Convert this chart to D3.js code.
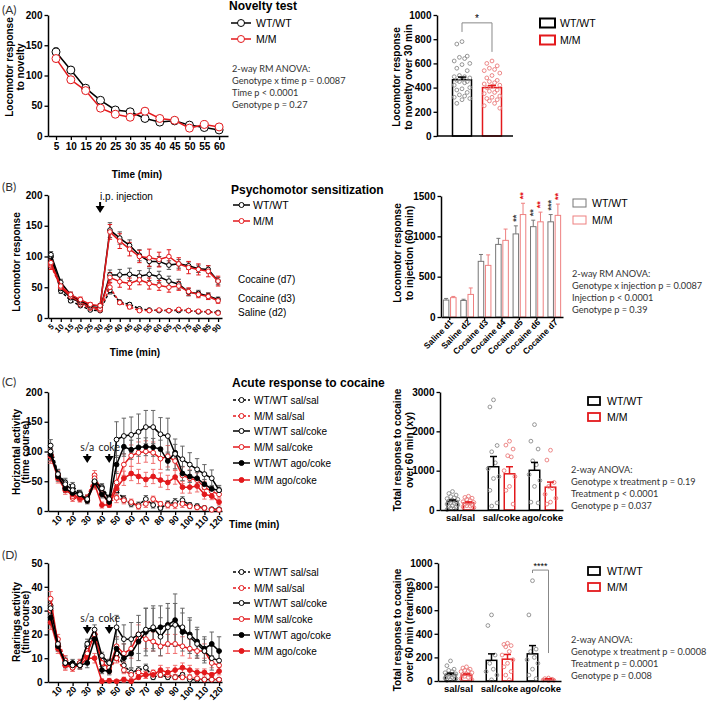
<!DOCTYPE html>
<html><head><meta charset="utf-8">
<script src="https://cdn.jsdelivr.net/npm/d3@7"></script>
<style>body{margin:0;background:#fff;} svg{display:block;}</style>
</head><body><svg id="c" width="709" height="704"></svg>
<script>
// ================= DATA =================
// (A) Novelty test
const noveltyTime = [5,10,15,20,25,30,35,40,45,50,55,60];
const noveltyWT = [139,109,79,59,43,40,29,23,25,18,14,10];
const noveltyWTsem = [7,6,4,3,3,3,2,2,2,2,2,2];
const noveltyMM = [128,93,75,46,36,31,41,29,26,13,19,15];
const noveltyMMsem = [5,5,4,3,3,3,4,3,2,2,2,2];
const genotypes = ["WT/WT","M/M"];
const noveltyTotalMean = [465,400];
const noveltyTotalSem = [22,17];
const noveltyDotsWT = [780,760,660,650,640,620,600,590,560,540,500,490,490,480,470,460,450,450,440,420,400,390,380,360,340,330,320,310,300,270];
const noveltyDotsMM = [620,600,580,560,550,540,520,500,480,460,450,440,430,420,410,400,380,370,360,350,330,320,310,300,290,270,250,230];
const noveltyAnova = ["2-way RM ANOVA:","Genotype x time p = 0.0087","Time p < 0.0001","Genotype p = 0.27"];

// (B) Psychomotor sensitization
const sensTime = [5,10,15,20,25,30,35,40,45,50,55,60,65,70,75,80,85,90];
const sensD7WT = [103,58,38,28,20,20,143,130,118,102,92,92,86,88,85,80,79,60];
const sensD7WTsem = [5,5,4,3,3,3,12,10,9,9,8,8,7,7,6,6,6,6];
const sensD7MM = [90,52,38,30,22,20,140,125,112,100,98,95,100,88,82,79,76,60];
const sensD7MMsem = [7,5,4,4,3,3,12,12,11,10,14,12,11,10,10,9,9,8];
const sensD3WT = [100,48,33,25,18,16,70,70,71,68,71,67,60,55,42,40,36,30];
const sensD3WTsem = [5,4,3,3,2,2,8,9,10,9,10,9,8,8,6,5,5,4];
const sensD3MM = [88,50,35,26,18,15,66,59,56,62,56,53,50,52,43,38,35,28];
const sensD3MMsem = [6,4,4,3,3,2,8,9,9,8,9,8,8,7,6,5,5,4];
const sensD2WT = [100,44,28,20,13,12,45,26,22,15,13,12,12,12,12,10,10,9];
const sensD2WTsem = [5,4,3,2,2,2,6,3,3,2,2,2,2,2,2,2,2,2];
const sensD2MM = [85,50,35,22,16,13,50,25,18,12,12,13,12,14,12,11,10,8];
const sensD2MMsem = [6,4,3,2,2,2,7,3,3,2,2,2,2,2,2,2,2,2];
const sensCurveLabels = ["Cocaine (d7)","Cocaine (d3)","Saline (d2)"];
const sensDays = ["Saline d1","Saline d2","Cocaine d3","Cocaine d4","Cocaine d5","Cocaine d6","Cocaine d7"];
const sensTotWT = [210,205,690,900,1030,1120,1180];
const sensTotWTsem = [20,15,85,75,100,80,90];
const sensTotMM = [240,280,640,950,1270,1180,1260];
const sensTotMMsem = [15,80,130,140,140,120,140];
const sensStarsWT = ["","","","","**","**","***"];
const sensStarsMM = ["","","","","**","**","**"];
const sensAnova = ["2-way RM ANOVA:","Genotype x injection p = 0.0087","Injection p < 0.0001","Genotype p = 0.39"];

// (C) Acute response - horizontal activity
const acuteTime = [5,10,15,20,25,30,35,40,45,50,55,60,65,70,75,80,85,90,95,100,105,110,115,120];
const acuteLegend = ["WT/WT sal/sal","M/M sal/sal","WT/WT sal/coke","M/M sal/coke","WT/WT ago/coke","M/M ago/coke"];
const horizWTsalsal = [110,62,48,42,30,22,50,40,22,35,20,12,10,20,10,5,12,15,18,10,8,5,3,3];
const horizMMsalsal = [95,60,40,22,20,22,60,30,15,22,18,15,8,12,20,12,10,10,12,8,6,5,2,2];
const horizWTsalcoke = [100,62,45,35,28,20,50,38,20,120,126,128,133,141,141,129,126,96,87,78,70,62,55,35];
const horizMMsalcoke = [92,60,38,25,22,18,55,30,12,48,78,93,98,100,98,88,92,84,60,55,52,40,33,28];
const horizWTagocoke = [95,58,38,30,28,17,48,28,15,78,108,103,107,108,107,104,84,98,63,58,55,45,37,35];
const horizMMagocoke = [93,55,35,28,22,20,45,10,10,38,55,63,58,53,58,52,48,57,40,40,42,28,25,15];
const horizSemSalsal = [10,8,7,6,5,5,8,6,5,8,6,5,5,6,5,4,5,6,6,4,4,3,2,2];
const horizSemWTsalcoke = [10,8,7,6,5,5,8,6,5,30,30,30,30,28,28,28,30,25,22,20,18,16,14,8];
const horizSemMMsalcoke = [12,8,7,6,5,5,8,6,5,18,18,18,18,18,18,18,18,16,14,14,12,10,8,6];
const horizSemWTagocoke = [10,8,7,6,5,5,8,6,5,15,16,16,15,15,15,15,15,14,12,10,10,8,6,5];
const horizSemMMagocoke = [10,8,7,6,5,5,8,5,4,12,12,12,12,12,12,12,12,12,10,10,10,8,6,5];
const treatGroups = ["sal/sal","sal/coke","ago/coke"];
const horizTotWT = [220,1100,1010];
const horizTotWTsem = [35,260,200];
const horizTotMM = [180,920,580];
const horizTotMMsem = [25,180,130];
const horizDotsWT = [
  [470,420,380,340,310,290,270,250,230,210,190,170,150,130,110,90,70,50,30,10],
  [2800,2620,1640,1480,1200,1050,850,800,500,180,100],
  [2170,1750,1550,1250,1150,900,750,600,200,180]];
const horizDotsMM = [
  [350,320,300,270,240,210,190,170,150,130,110,100,80,60],
  [1750,1650,1550,1380,1350,1000,850,600,500,150],
  [1520,1270,700,600,550,400,300,200,150]];
const horizAnova = ["2-way ANOVA:","Genotype x treatment p = 0.19","Treatment p < 0.0001","Genotype p = 0.037"];

// (D) Rearings
const rearWTsalsal = [32,15,9,7,8,15,20,9,8,12,7,4,5,6,2,3,2,2,3,1,1,1,1,1];
const rearMMsalsal = [30,18,9,6,7,13,20,8,5,10,5,3,4,3,4,3,3,2,2,2,1.5,1,1,1];
const rearWTsalcoke = [31,16,8,7,7,16,22,11,8,23,18,18,20,22,23,19,23,24,23,19,16,13,10,9];
const rearMMsalcoke = [35,16,7,6,8,12,20,8,6,15,12,14,20,18,17,15,16,16,15,14,13,13,8,7];
const rearWTagocoke = [27,15,8,8,7,8,18,5,4.5,14,10,12,17,21,22,23,24,26,21,20,17,14,16,13];
const rearMMagocoke = [25,14,7,7,7,10,10,0.3,0.5,0.3,1,0.3,2,3,3,5,4,5,6,5,4,4,3,4.5];
const rearSemSalsal = [3,2,2,1.5,1.5,2,2,1.5,1.5,2,1.5,1.5,1.5,1.5,1,1,1,1,1,1,0.5,0.5,0.5,0.5];
const rearSemWTsalcoke = [3,2,2,1.5,1.5,2,2,1.5,1.5,5,6,7,8,9,9,8,8,9,8,7,6,5,5,4];
const rearSemMMsalcoke = [3,2,2,1.5,1.5,2,2,1.5,1.5,4,4,4,4,4,4,4,4,4,4,4,3,3,2,2];
const rearSemWTagocoke = [3,2,2,1.5,1.5,2,2,1.5,1.5,5,6,6,8,10,9,9,9,11,8,7,6,5,5,6];
const rearSemMMagocoke = [3,2,2,1.5,1.5,2,2,1,1,0.5,1,0.5,1,1.5,1.5,2,2,2,2,2,1.5,1.5,1,1.5];
const rearTotWT = [55,175,230];
const rearTotWTsem = [12,55,70];
const rearTotMM = [50,185,15];
const rearTotMMsem = [10,40,4];
const rearDotsWT = [
  [170,130,100,90,80,70,60,55,50,45,40,30,25,20,10,5],
  [560,470,220,150,100,80,50,10],
  [850,560,270,250,200,180,150,100,50,20]];
const rearDotsMM = [
  [120,110,100,90,85,80,70,60,55,50,40,30,20,10],
  [320,310,300,290,250,220,180,150,120,80,50,10],
  [25,20,15,12,10,8,5,3]];
const rearAnova = ["2-way ANOVA:","Genotype x treatment p = 0.0008","Treatment p = 0.0001","Genotype p = 0.008"];

// ================= DRAWING =================
const svg = d3.select("#c");
const BLACK = "#000", RED = "#e3191c", PINK = "#ee8080", GRAY = "#777", DOT_GRAY = "#8a8a8a", DOT_PINK = "#ea7b7b";
const SANS = "'Liberation Sans', Arial, sans-serif";
const CAL = "Lato, 'Open Sans', sans-serif";

function txt(x, y, s, o = {}) {
  return svg.append("text").attr("x", x).attr("y", y).text(s)
    .attr("font-family", o.family || SANS).attr("font-size", o.size || 10)
    .attr("font-weight", o.weight || "normal").attr("fill", o.fill || "#000")
    .attr("text-anchor", o.anchor || "start");
}
function yLabel(x, yc, lines, gap) {
  lines.forEach((l, i) => svg.append("text")
    .attr("transform", `translate(${x + i * gap},${yc}) rotate(-90)`)
    .attr("text-anchor", "middle").attr("font-family", SANS).attr("font-weight", "bold")
    .attr("font-size", 10).text(l));
}
function styleAxis(g, fs) {
  g.select(".domain").attr("stroke-width", 1.5).attr("stroke", "#000");
  g.selectAll(".tick line").attr("stroke-width", 1.3).attr("stroke", "#000");
  g.selectAll(".tick text").attr("font-size", fs).attr("font-weight", "bold").attr("font-family", SANS).attr("fill", "#000");
}
function drawYAxis(y, x0, ticks, fs = 10) {
  const g = svg.append("g").attr("transform", `translate(${x0},0)`)
    .call(d3.axisLeft(y).tickValues(ticks).tickSize(3.5).tickPadding(2).tickSizeOuter(0).tickFormat(d3.format("d")));
  styleAxis(g, fs);
}
function drawXAxisLinear(x, y0, ticks, fs, rotate) {
  const g = svg.append("g").attr("transform", `translate(0,${y0})`)
    .call(d3.axisBottom(x).tickValues(ticks).tickSize(4).tickSizeOuter(0).tickFormat(d3.format("d")));
  styleAxis(g, fs);
  if (rotate) {
    g.selectAll(".tick text").attr("text-anchor", "end").attr("dy", null).attr("y", 0)
      .attr("transform", `translate(${rotate.dx},${rotate.dy}) rotate(-45)`);
  }
}
function anova(x, y0, lines) {
  lines.forEach((l, i) => txt(x, y0 + i * 12, l, { family: CAL, size: 9.2, fill: "#333" }));
}
function arrowDown(x, yTop, yBot) {
  svg.append("path").attr("d",
    `M${x - 1},${yTop} L${x + 1},${yTop} L${x + 1},${yBot - 7} L${x + 4.5},${yBot - 7} L${x},${yBot} L${x - 4.5},${yBot - 7} L${x - 1},${yBot - 7} Z`)
    .attr("fill", "#000");
}

function lineChart(x, y, times, series) {
  const items = series.map(s => times.map((t, i) => ({ t, v: s.v[i], e: s.e[i] })));
  series.forEach((s, k) => {
    const g = svg.append("g").attr("stroke", s.errColor || s.color).attr("stroke-width", 1);
    items[k].forEach(d => {
      const cw = 2.2;
      g.append("line").attr("x1", x(d.t)).attr("x2", x(d.t)).attr("y1", y(Math.max(0, d.v - d.e))).attr("y2", y(d.v + d.e));
      g.append("line").attr("x1", x(d.t) - cw).attr("x2", x(d.t) + cw).attr("y1", y(d.v + d.e)).attr("y2", y(d.v + d.e));
      g.append("line").attr("x1", x(d.t) - cw).attr("x2", x(d.t) + cw).attr("y1", y(Math.max(0, d.v - d.e))).attr("y2", y(Math.max(0, d.v - d.e)));
    });
  });
  series.forEach((s, k) => {
    svg.append("path").datum(items[k])
      .attr("d", d3.line().x(d => x(d.t)).y(d => y(d.v)))
      .attr("fill", "none").attr("stroke", s.color).attr("stroke-width", s.w || 1.5)
      .attr("stroke-dasharray", s.dash ? "3,2" : null);
    svg.append("g").selectAll("circle").data(items[k]).join("circle")
      .attr("cx", d => x(d.t)).attr("cy", d => y(d.v)).attr("r", s.r || 2.5)
      .attr("fill", s.filled ? s.color : "#fff").attr("stroke", s.color).attr("stroke-width", 1);
  });
}
function lineLegend(x0, x1, xText, ys, entries, fs) {
  entries.forEach((e, i) => {
    svg.append("line").attr("x1", x0).attr("x2", x1).attr("y1", ys[i]).attr("y2", ys[i])
      .attr("stroke", e.color).attr("stroke-width", 1.5).attr("stroke-dasharray", e.dash ? "3,2" : null);
    svg.append("circle").attr("cx", (x0 + x1) / 2).attr("cy", ys[i]).attr("r", e.r || 2.5)
      .attr("fill", e.filled ? e.color : "#fff").attr("stroke", e.color).attr("stroke-width", 1);
    txt(xText, ys[i] + 3.6, e.label, { size: fs });
  });
}
function boxLegend(x, w, h, xText, ys, entries, fs) {
  entries.forEach((e, i) => {
    svg.append("rect").attr("x", x).attr("y", ys[i] - h / 2).attr("width", w).attr("height", h)
      .attr("fill", "#fff").attr("stroke", e.color).attr("stroke-width", e.sw || 1.5);
    txt(xText, ys[i] + 3.8, e.label, { size: fs });
  });
}
// deterministic horizontal spread of scatter dots by rank
function spread(vals, step) {
  const order = vals.map((v, i) => [v, i]).sort((a, b) => b[0] - a[0]);
  const pattern = [0, -2, 2, -1, 1, -3, 3];
  const off = new Array(vals.length);
  order.forEach((p, r) => { off[p[1]] = pattern[r % pattern.length] * step; });
  return off;
}
function bars(xc, y, groups) {
  groups.forEach(gr => {
    gr.means.forEach((m, i) => {
      const cx = xc(i) + gr.offset;
      svg.append("rect").attr("x", cx - gr.width / 2).attr("y", y(m)).attr("width", gr.width)
        .attr("height", y(0) - y(m)).attr("fill", "#fff").attr("stroke", gr.color).attr("stroke-width", gr.sw);
      if (gr.dots) {
        const vals = gr.dots[i];
        const off = spread(vals, gr.dotStep);
        svg.append("g").selectAll("circle").data(vals).join("circle")
          .attr("cx", (d, j) => cx + off[j]).attr("cy", d => y(d)).attr("r", 1.9)
          .attr("fill", "none").attr("stroke", gr.dotColor).attr("stroke-width", 0.9);
      }
      const e = gr.sems[i];
      svg.append("line").attr("x1", cx).attr("x2", cx).attr("y1", y(m)).attr("y2", y(m + e))
        .attr("stroke", gr.color).attr("stroke-width", gr.sw);
      svg.append("line").attr("x1", cx - gr.cap).attr("x2", cx + gr.cap).attr("y1", y(m + e)).attr("y2", y(m + e))
        .attr("stroke", gr.color).attr("stroke-width", gr.sw);
    });
  });
}
function bandAxis(xb, y0, fs, rotate, tick) {
  const g = svg.append("g").attr("transform", `translate(0,${y0})`)
    .call(d3.axisBottom(xb).tickSize(tick || 0).tickSizeOuter(0).tickPadding(4));
  styleAxis(g, fs);
  if (rotate) {
    g.selectAll(".tick text").attr("text-anchor", "end").attr("dy", null).attr("y", 0)
      .attr("transform", `translate(${rotate.dx},${rotate.dy}) rotate(-45)`);
  }
}

// ---------- Panel labels ----------
[["(A)", 14], ["(B)", 191], ["(C)", 386], ["(D)", 559]].forEach(p =>
  txt(2, p[1], p[0], { family: CAL, size: 12, fill: "#333" }));

// ---------- (A) left ----------
{
  const x = d3.scaleLinear().domain([2.3, 63]).range([48, 228]);
  const y = d3.scaleLinear().domain([0, 200]).range([136, 15]);
  drawYAxis(y, 48, [0, 50, 100, 150, 200]);
  drawXAxisLinear(x, 136, noveltyTime, 10);
  lineChart(x, y, noveltyTime, [
    { v: noveltyWT, e: noveltyWTsem, color: BLACK, errColor: "#555", r: 4 },
    { v: noveltyMM, e: noveltyMMsem, color: RED, r: 4 }]);
  yLabel(13, 67, ["Locomotor response", "to novelty"], 11);
  txt(137, 178, "Time (min)", { weight: "bold", anchor: "middle" });
  txt(229, 10, "Novelty test", { weight: "bold", size: 12 });
  lineLegend(231, 251, 256, [23, 39], [
    { label: "WT/WT", color: BLACK, r: 3.5 }, { label: "M/M", color: RED, r: 3.5 }], 10.5);
  anova(232, 72, noveltyAnova);
}
// ---------- (A) right ----------
{
  const y = d3.scaleLinear().domain([0, 1000]).range([136, 15]);
  const xb = d3.scaleBand().domain(genotypes).range([439, 515]).paddingOuter(0.267);
  drawYAxis(y, 437, [0, 200, 400, 600, 800, 1000]);
  const xc = i => xb(genotypes[i]) + xb.bandwidth() / 2;
  bars(i => xc(0), y, [{ means: [noveltyTotalMean[0]], sems: [noveltyTotalSem[0]], offset: 0, width: 19, color: BLACK, sw: 1.5, cap: 4, dots: [noveltyDotsWT], dotColor: DOT_GRAY, dotStep: 2.6 }]);
  bars(i => xc(1), y, [{ means: [noveltyTotalMean[1]], sems: [noveltyTotalSem[1]], offset: 0, width: 19, color: RED, sw: 1.5, cap: 4, dots: [noveltyDotsMM], dotColor: DOT_PINK, dotStep: 2.6 }]);
  svg.append("line").attr("x1", 437).attr("x2", 513).attr("y1", 136).attr("y2", 136).attr("stroke", "#000").attr("stroke-width", 1.5);
  const bx0 = xc(0), bx1 = xc(1);
  svg.append("path").attr("d", `M${bx0},${y(860)} L${bx0},${y(935)} L${bx1},${y(935)} L${bx1},${y(695)}`)
    .attr("fill", "none").attr("stroke", "#888").attr("stroke-width", 1);
  txt((bx0 + bx1) / 2, y(935) - 1, "*", { anchor: "middle", size: 10 });
  yLabel(400, 77, ["Locomotor response", "to novelty over 30 min"], 12);
  boxLegend(540, 15, 9, 560, [23, 40], [{ label: "WT/WT", color: BLACK, sw: 2 }, { label: "M/M", color: RED, sw: 2 }], 10.5);
}

// ---------- (B) left ----------
{
  const x = d3.scaleLinear().domain([3.5, 92]).range([48, 222]);
  const y = d3.scaleLinear().domain([0, 200]).range([318, 195]);
  drawYAxis(y, 48, [0, 50, 100, 150, 200]);
  drawXAxisLinear(x, 318, sensTime, 8, { dx: 3, dy: 9 });
  lineChart(x, y, sensTime, [
    { v: sensD2WT, e: sensD2WTsem, color: BLACK, errColor: "#555", dash: true, r: 2.3 },
    { v: sensD2MM, e: sensD2MMsem, color: RED, dash: true, r: 2.3 },
    { v: sensD3WT, e: sensD3WTsem, color: BLACK, errColor: "#555", r: 2.3 },
    { v: sensD3MM, e: sensD3MMsem, color: RED, r: 2.3 },
    { v: sensD7WT, e: sensD7WTsem, color: BLACK, errColor: "#555", r: 2.3 },
    { v: sensD7MM, e: sensD7MMsem, color: RED, r: 2.3 }]);
  yLabel(20, 262, ["Locomotor response"], 11);
  txt(135, 356, "Time (min)", { weight: "bold", anchor: "middle" });
  txt(x(30), 200, "i.p. injection", { size: 10 });
  arrowDown(x(30), 202, 213);
  txt(231, 194, "Psychomotor sensitization", { weight: "bold", size: 12 });
  lineLegend(233, 250, 253, [205, 221], [{ label: "WT/WT", color: BLACK }, { label: "M/M", color: RED }], 10.5);
  txt(238, 283, sensCurveLabels[0], { size: 10 });
  txt(238, 302, sensCurveLabels[1], { size: 10 });
  txt(238, 316, sensCurveLabels[2], { size: 10 });
}
// ---------- (B) right ----------
{
  const y = d3.scaleLinear().domain([0, 1500]).range([317, 196]);
  const xb = d3.scaleBand().domain(sensDays).range([441, 563]);
  const xc = i => xb(sensDays[i]) + xb.bandwidth() / 2;
  drawYAxis(y, 441, [0, 500, 1000, 1500]);
  bars(xc, y, [
    { means: sensTotWT, sems: sensTotWTsem, offset: -3.6, width: 5.5, color: GRAY, sw: 1, cap: 2 },
    { means: sensTotMM, sems: sensTotMMsem, offset: 3.6, width: 5.5, color: PINK, sw: 1, cap: 2 }]);
  bandAxis(xb, 317, 8.5, { dx: 4, dy: 6 }, 3);
  [[sensStarsWT, sensTotWT, sensTotWTsem, -3.6, "#444"], [sensStarsMM, sensTotMM, sensTotMMsem, 3.6, RED]].forEach(([st, m, e, off, col]) => {
    st.forEach((s, i) => {
      if (!s) return;
      const cx = xc(i) + off, cy = y(m[i] + e[i]) - 4;
      svg.append("text").attr("transform", `translate(${cx + 3},${cy}) rotate(-90)`)
        .attr("font-family", SANS).attr("font-size", 9).attr("font-weight", "bold").attr("fill", col).text(s);
    });
  });
  yLabel(401, 253, ["Locomotor response", "to injection (60 min)"], 11.5);
  boxLegend(573, 13, 8, 592, [203, 220], [{ label: "WT/WT", color: GRAY, sw: 1 }, { label: "M/M", color: PINK, sw: 1 }], 10.5);
  anova(572, 277, sensAnova);
}

// ---------- (C) & (D) left ----------
function acutePanel(y, yTicks, data, sems, yBase, yTxt, legendYs) {
  const x = d3.scaleLinear().domain([3.2, 122]).range([48, 222]);
  drawYAxis(y, 48, yTicks);
  drawXAxisLinear(x, yBase, [10, 20, 30, 40, 50, 60, 70, 80, 90, 100, 110, 120], 9, { dx: 4, dy: 8 });
  const styles = [
    { color: BLACK, errColor: "#666", dash: true },
    { color: RED, dash: true, errColor: "#f07070" },
    { color: BLACK, errColor: "#666" },
    { color: RED, errColor: "#f07070" },
    { color: BLACK, errColor: "#666", filled: true },
    { color: RED, errColor: "#f07070", filled: true }];
  const order = [0, 1, 3, 5, 4, 2];
  lineChart(x, y, acuteTime, order.map(k => Object.assign({ v: data[k], e: sems[k], r: 2.4 }, styles[k])));
  txt(x(30), yTxt, "s/a", { family: CAL, size: 10.5, anchor: "middle", fill: "#222" });
  txt(x(45), yTxt, "coke", { family: CAL, size: 10.5, anchor: "middle", fill: "#222" });
  arrowDown(x(30), yTxt + 3, yTxt + 12);
  arrowDown(x(45), yTxt + 3, yTxt + 12);
  lineLegend(233, 250, 254, legendYs, acuteLegend.map((l, k) => Object.assign({ label: l }, styles[k])), 10);
}
{
  const y = d3.scaleLinear().domain([0, 200]).range([511, 392]);
  acutePanel(y, [0, 50, 100, 150, 200],
    [horizWTsalsal, horizMMsalsal, horizWTsalcoke, horizMMsalcoke, horizWTagocoke, horizMMagocoke],
    [horizSemSalsal, horizSemSalsal, horizSemWTsalcoke, horizSemMMsalcoke, horizSemWTagocoke, horizSemMMagocoke],
    511, 451, [400, 416, 431, 447, 463, 480]);
  yLabel(19.5, 452, ["Horizontal activity", "(time course)"], 9.5);
  txt(229, 528, "Time (min)", { weight: "bold" });
  txt(232, 387, "Acute response to cocaine", { weight: "bold", size: 12 });
}
{
  const y = d3.scaleLinear().domain([0, 50]).range([682, 563]);
  acutePanel(y, [0, 10, 20, 30, 40, 50],
    [rearWTsalsal, rearMMsalsal, rearWTsalcoke, rearMMsalcoke, rearWTagocoke, rearMMagocoke],
    [rearSemSalsal, rearSemSalsal, rearSemWTsalcoke, rearSemMMsalcoke, rearSemWTagocoke, rearSemMMagocoke],
    682, 622, [572, 588, 603, 619, 635, 651]);
  yLabel(19.5, 622, ["Rearings activity", "(time course)"], 9.5);
}

// ---------- (C) & (D) right ----------
function treatBars(y, yTicks, x0, wt, wtS, mm, mmS, dWT, dMM, ylab, yc, legendYs, anovaY, anovaLines) {
  const xb = d3.scaleBand().domain(treatGroups).range([x0, x0 + 123]);
  const xc = i => xb(treatGroups[i]) + xb.bandwidth() / 2;
  drawYAxis(y, x0, yTicks);
  bars(xc, y, [
    { means: wt, sems: wtS, offset: -8, width: 10.5, color: BLACK, sw: 1.5, cap: 3.5, dots: dWT, dotColor: DOT_GRAY, dotStep: 1.8 },
    { means: mm, sems: mmS, offset: 8, width: 10.5, color: RED, sw: 1.5, cap: 3.5, dots: dMM, dotColor: DOT_PINK, dotStep: 1.8 }]);
  bandAxis(xb, y.range()[0], 9.5, null, 0);
  yLabel(401, yc, ylab, 12);
  boxLegend(588, 12, 8, 607, legendYs, [{ label: "WT/WT", color: BLACK, sw: 1.8 }, { label: "M/M", color: RED, sw: 1.8 }], 10.5);
  anova(571, anovaY, anovaLines);
  return xc;
}
{
  const y = d3.scaleLinear().domain([0, 3000]).range([510, 392]);
  treatBars(y, [0, 1000, 2000, 3000], 440, horizTotWT, horizTotWTsem, horizTotMM, horizTotMMsem,
    horizDotsWT, horizDotsMM, ["Total response to cocaine", "over 60 min (xy)"], 450, [401, 417], 473, horizAnova);
}
{
  const y = d3.scaleLinear().domain([0, 1000]).range([681, 563]);
  const xc = treatBars(y, [0, 200, 400, 600, 800, 1000], 438, rearTotWT, rearTotWTsem, rearTotMM, rearTotMMsem,
    rearDotsWT, rearDotsMM, ["Total response to cocaine", "over 60 min (rearings)"], 630, [571, 587], 643, rearAnova);
  const bx0 = xc(2) - 8, bx1 = xc(2) + 8;
  svg.append("path").attr("d", `M${bx0},${y(915)} L${bx0},${y(940)} L${bx1},${y(940)} L${bx1},${y(237)}`)
    .attr("fill", "none").attr("stroke", "#888").attr("stroke-width", 1);
  txt((bx0 + bx1) / 2, y(940) - 1, "****", { anchor: "middle", size: 9 });
}
</script>
</body></html>
